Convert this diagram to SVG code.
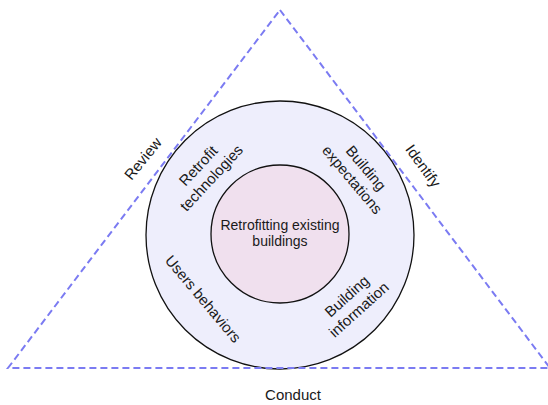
<svg xmlns="http://www.w3.org/2000/svg" width="548" height="405" viewBox="0 0 548 405">
<style>
.lbl{font-family:"Liberation Sans",Arial,sans-serif;font-size:14px;fill:#1a1a1a;text-anchor:middle}
.ringlbl{font-size:15px}
.big{font-size:15px}
.tri{fill:none;stroke:#7b7bf2;stroke-width:2;stroke-dasharray:7 4}
.ring{stroke:#111;stroke-width:1.3}
</style>
<rect width="548" height="405" fill="#fff"/>
<g id="outer">
<circle class="ring" cx="280" cy="235" r="134" fill="#eeeefc"/>
<g transform="translate(205,172) rotate(-47)"><text class="lbl ringlbl" y="-4">Retrofit</text><text class="lbl ringlbl" y="14">technologies</text></g>
<g transform="translate(359,174) rotate(50)"><text class="lbl ringlbl" y="-4">Building</text><text class="lbl ringlbl" y="14">expectations</text></g>
<g transform="translate(203,299) rotate(50)"><text class="lbl ringlbl" y="5">Users behaviors</text></g>
<g transform="translate(353,303) rotate(-42)"><text class="lbl ringlbl" y="-4">Building</text><text class="lbl ringlbl" y="14">information</text></g>
</g>
<g id="inner">
<circle class="ring" cx="280" cy="234" r="69" fill="#f0e0ee"/>
<text class="lbl" x="280" y="230">Retrofitting existing</text>
<text class="lbl" x="280" y="246">buildings</text>
</g>
<g id="connectors">
<polygon class="tri" points="280,10 550,368 8,368"/>
</g>
<g id="labels">
<text class="lbl big" transform="translate(147,162) rotate(-51)">Review</text>
<text class="lbl big" transform="translate(423,166) rotate(54)" y="5">Identify</text>
<text class="lbl big" x="293" y="400">Conduct</text>
</g>
</svg>
